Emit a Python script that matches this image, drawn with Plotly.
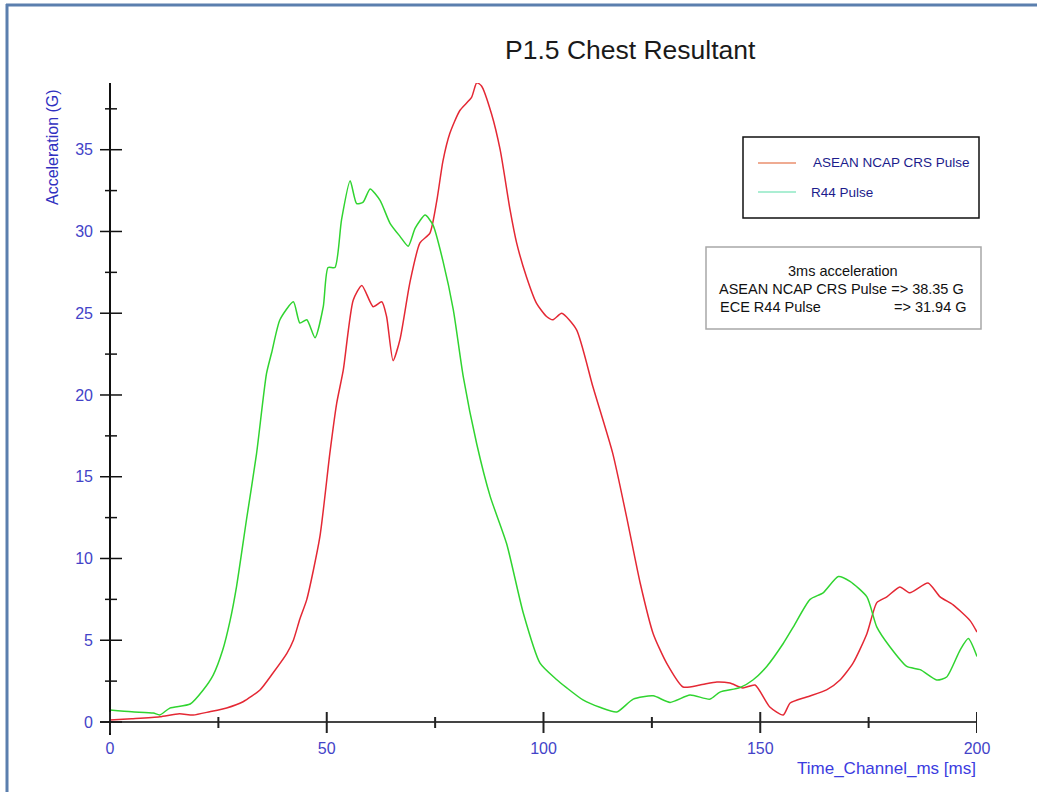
import plotly.graph_objects as go

# ---------------- data ----------------
r44_t = [0, 5, 10, 11.5, 13.8, 18.5, 21.5, 23.8, 26, 27.7, 29.2, 31.5, 33.8, 36.1, 37.3, 39.2,
         42.3, 43.8, 45.4, 47.3, 49.2, 50.3, 51.9, 53.4, 55.4, 56.9, 58.4, 60, 62.3, 64.6, 66.9,
         68.8, 70.4, 72.7, 74.5, 76.8, 79.2, 81.5, 84.6, 87.7, 91.5, 95.3, 99.2, 103, 105.3, 109.1,
         113, 116.9, 120.7, 125.3, 129.2, 133.8, 138.4, 140.7, 145.3, 148.3, 151.5, 155.3, 157.6,
         161.5, 164.5, 168, 170.7, 174.6, 176.9, 179.9, 183.8, 186.9, 190.7, 193, 196.1, 198, 200]
r44_g = [0.73, 0.62, 0.55, 0.43, 0.85, 1.1, 1.96, 2.87, 4.4, 6.2, 8.3, 12.4, 16.4, 21.3, 22.6, 24.6,
         25.7, 24.4, 24.6, 23.5, 25.4, 27.8, 27.8, 30.7, 33.1, 31.7, 31.8, 32.6, 31.9, 30.5, 29.7,
         29.1, 30.2, 31.0, 30.4, 28.2, 25.2, 21.1, 17.0, 13.8, 10.9, 6.7, 3.6, 2.6, 2.1, 1.35,
         0.9, 0.61, 1.4, 1.6, 1.2, 1.65, 1.4, 1.83, 2.1, 2.57, 3.4, 4.8, 5.8,
         7.5, 7.9, 8.9, 8.6, 7.65, 5.8, 4.6, 3.4, 3.2, 2.57, 2.75, 4.4, 5.1, 4.0]

crs_t = [0, 5, 11.5, 16, 19.2, 23, 26.9, 30.7, 34.6, 37.6, 40.8, 42.3, 43.8, 45.4, 48.4, 50.7,
         52.3, 53.8, 56.1, 58.1, 60.7, 62.7, 63.8, 65.3, 66.9, 69.2, 71.5, 73.8, 75.4, 76.8, 78.4,
         80.7, 83.4, 84.6, 85.7, 88, 90, 92.3, 93.8, 96.1, 98.4, 100.7, 102.2, 104.2, 107.6, 111.4,
         116, 119.2, 122.3, 125.3, 128.4, 132.2, 136.1, 140, 143, 146, 148.8, 152.2, 155.3, 156.9,
         160.7, 165.3, 168.4, 171.4, 174.6, 176.9, 179.2, 182.2, 184.5, 188.7, 191.5, 194.5, 198.4, 200]
crs_g = [0.12, 0.2, 0.32, 0.5, 0.43, 0.63, 0.86, 1.24, 1.96, 3.0, 4.2, 5.0, 6.3, 7.5, 11.3, 16.4,
         19.5, 21.5, 25.8, 26.7, 25.4, 25.7, 24.8, 22.1, 23.4, 26.9, 29.3, 29.9, 31.9, 34.3, 36.0,
         37.4, 38.2, 39.1, 38.9, 37.2, 35.0, 31.3, 29.3, 27.2, 25.6, 24.8, 24.6, 25.0, 24.0, 20.5,
         16.4, 12.5, 8.5, 5.4, 3.6, 2.14, 2.26, 2.45, 2.38, 2.08, 2.26, 0.92, 0.43, 1.16,
         1.53, 1.96, 2.57, 3.6, 5.4, 7.3, 7.65, 8.26, 7.9, 8.5, 7.65, 7.16, 6.2, 5.5]

x_major = [0, 50, 100, 150, 200]
x_minor = [25, 75, 125, 175]
y_major = [0, 5, 10, 15, 20, 25, 30, 35]
y_minor = [2.5, 7.5, 12.5, 17.5, 22.5, 27.5, 32.5, 37.5]

series_names = ["ASEAN NCAP CRS Pulse", "R44 Pulse"]
result_lines = ["3ms acceleration", "ASEAN NCAP CRS Pulse => 38.35 G", "ECE R44 Pulse", "=> 31.94 G"]

RED = "rgb(228,40,52)"
GREEN = "rgb(48,212,48)"
BLUE = "#4343c8"
FONT = "Liberation Sans, Arial, sans-serif"

# ---------------- layout geometry (pixels) ----------------
W, H = 1037, 799
L, R, T, B = 100, 60, 83, 64
PW, PH = W - L - R, H - T - B


def px(xp):
    return (xp - L) / PW


def py(yp):
    return (H - B - yp) / PH


fig = go.Figure()
fig.add_trace(go.Scatter(x=crs_t, y=crs_g, mode="lines", name=series_names[0],
                         line=dict(color=RED, width=1.5, shape="spline", smoothing=0.6),
                         showlegend=False))
fig.add_trace(go.Scatter(x=r44_t, y=r44_g, mode="lines", name=series_names[1],
                         line=dict(color=GREEN, width=1.5, shape="spline", smoothing=0.6),
                         showlegend=False))

shapes = []
# frame border (top & left)
shapes.append(dict(type="line", xref="paper", yref="paper", x0=px(6), x1=px(W), y0=py(5), y1=py(5),
                   line=dict(color="#5b7fae", width=3)))
shapes.append(dict(type="line", xref="paper", yref="paper", x0=px(7), x1=px(7), y0=py(4), y1=py(792),
                   line=dict(color="#5b7fae", width=3)))
# axis lines
shapes.append(dict(type="line", xref="paper", yref="y", x0=0, x1=1, y0=0, y1=0,
                   line=dict(color="#444444", width=2)))
shapes.append(dict(type="line", xref="x", yref="paper", x0=0, x1=0, y0=0, y1=1,
                   line=dict(color="#111111", width=2)))
# x ticks
for v in x_major:
    shapes.append(dict(type="line", xref="x", yref="y", x0=v, x1=v, ysizemode="pixel", yanchor=0,
                       y0=-11, y1=10, line=dict(color="#222222", width=2)))
for v in x_minor:
    shapes.append(dict(type="line", xref="x", yref="y", x0=v, x1=v, ysizemode="pixel", yanchor=0,
                       y0=-6, y1=5, line=dict(color="#222222", width=2)))
# y ticks
for v in y_major:
    shapes.append(dict(type="line", xref="x", yref="y", y0=v, y1=v, xsizemode="pixel", xanchor=0,
                       x0=-10, x1=12, line=dict(color="#111111", width=1.5)))
for v in y_minor:
    shapes.append(dict(type="line", xref="x", yref="y", y0=v, y1=v, xsizemode="pixel", xanchor=0,
                       x0=-5, x1=7, line=dict(color="#111111", width=1.5)))
# legend box
shapes.append(dict(type="rect", xref="paper", yref="paper", x0=px(743), x1=px(979), y0=py(137), y1=py(218),
                   line=dict(color="#111111", width=1.5), fillcolor="white"))
shapes.append(dict(type="line", xref="paper", yref="paper", x0=px(758), x1=px(796), y0=py(163), y1=py(163),
                   line=dict(color="#ea8f6e", width=1.5)))
shapes.append(dict(type="line", xref="paper", yref="paper", x0=px(758), x1=px(796), y0=py(192), y1=py(192),
                   line=dict(color="#8fe8c4", width=1.5)))
# result box
shapes.append(dict(type="rect", xref="paper", yref="paper", x0=px(706), x1=px(981), y0=py(247), y1=py(329),
                   line=dict(color="#a8a8a8", width=1.5), fillcolor="white"))

ann = []
ann.append(dict(text="P1.5 Chest Resultant", xref="paper", yref="paper", x=px(630), y=py(50),
                xanchor="center", yanchor="middle", showarrow=False,
                font=dict(family=FONT, size=26.5, color="#1a1a1a")))
ann.append(dict(text="Acceleration (G)", xref="paper", yref="paper", x=px(52), y=py(147),
                xanchor="center", yanchor="middle", showarrow=False, textangle=-90,
                font=dict(family=FONT, size=16, color="#3030c0")))
ann.append(dict(text="Time_Channel_ms [ms]", xref="paper", yref="paper", x=px(978), y=py(768),
                xanchor="right", yanchor="middle", showarrow=False,
                font=dict(family=FONT, size=17, color="#3c3ce0")))
ann.append(dict(text=series_names[0], xref="paper", yref="paper", x=px(811), y=py(163),
                xanchor="left", yanchor="middle", showarrow=False,
                font=dict(family=FONT, size=13.5, color="#1c1c8c")))
ann.append(dict(text=series_names[1], xref="paper", yref="paper", x=px(809), y=py(192),
                xanchor="left", yanchor="middle", showarrow=False,
                font=dict(family=FONT, size=13.5, color="#1c1c8c")))
ann.append(dict(text=result_lines[0], xref="paper", yref="paper", x=px(843), y=py(271),
                xanchor="center", yanchor="middle", showarrow=False,
                font=dict(family=FONT, size=14.5, color="#111111")))
ann.append(dict(text=result_lines[1], xref="paper", yref="paper", x=px(717), y=py(289),
                xanchor="left", yanchor="middle", showarrow=False,
                font=dict(family=FONT, size=14.5, color="#111111")))
ann.append(dict(text=result_lines[2], xref="paper", yref="paper", x=px(718), y=py(307),
                xanchor="left", yanchor="middle", showarrow=False,
                font=dict(family=FONT, size=14.5, color="#111111")))
ann.append(dict(text=result_lines[3], xref="paper", yref="paper", x=px(969), y=py(307),
                xanchor="right", yanchor="middle", showarrow=False,
                font=dict(family=FONT, size=14.5, color="#111111")))

fig.update_layout(
    width=W, height=H,
    margin=dict(l=L, r=R, t=T, b=B, pad=0),
    paper_bgcolor="white", plot_bgcolor="rgba(0,0,0,0)",
    showlegend=False,
    shapes=shapes, annotations=ann,
    xaxis=dict(range=[-10 / 4.335, 200], showgrid=False, zeroline=False, showline=False,
               tickmode="array", tickvals=x_major, ticktext=[str(v) for v in x_major],
               ticks="", ticklabelstandoff=2,
               tickfont=dict(family=FONT, size=16, color=BLUE)),
    yaxis=dict(range=[-13 / 16.35, 39.08], showgrid=False, zeroline=False, showline=False,
               tickmode="array", tickvals=y_major, ticktext=[str(v) for v in y_major],
               ticks="", ticklabelstandoff=6,
               tickfont=dict(family=FONT, size=16, color=BLUE)),
)

fig.write_html("out.html")
